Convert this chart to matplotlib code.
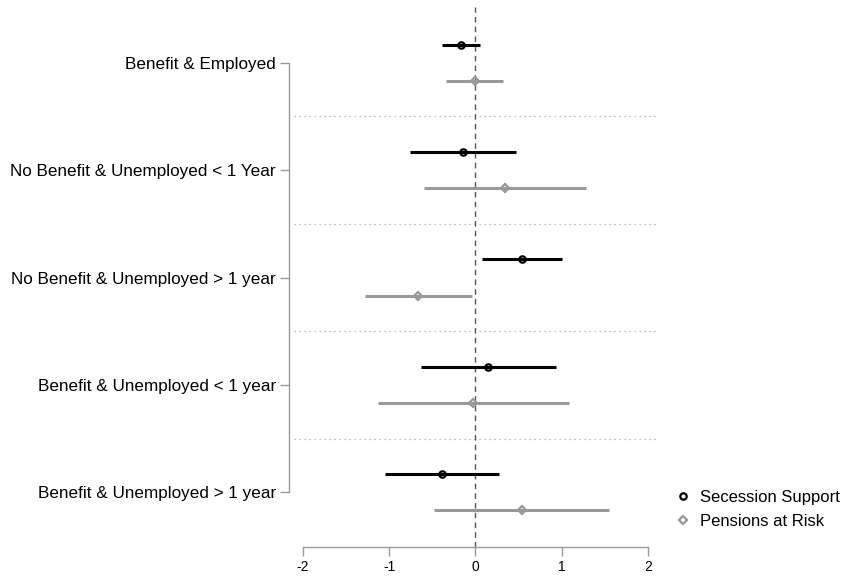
import matplotlib
matplotlib.use("Agg")
import matplotlib.pyplot as plt
from matplotlib.lines import Line2D

plt.rcParams['font.family'] = ['Liberation Sans', 'DejaVu Sans']

categories = ["Benefit & Employed",
              "No Benefit & Unemployed < 1 Year",
              "No Benefit & Unemployed > 1 year",
              "Benefit & Unemployed < 1 year",
              "Benefit & Unemployed > 1 year"]

secession_est = [-0.17, -0.15, 0.535, 0.15, -0.39]
secession_lo = [-0.39, -0.755, 0.07, -0.63, -1.045]
secession_hi = [0.05, 0.47, 1.0, 0.93, 0.27]

pensions_est = [-0.005, 0.345, -0.665, -0.025, 0.535]
pensions_lo = [-0.34, -0.595, -1.275, -1.13, -0.475]
pensions_hi = [0.32, 1.28, -0.045, 1.08, 1.55]

xticks = [-2, -1, 0, 1, 2]

fig = plt.figure(figsize=(8.45, 5.76), dpi=100)
ax = fig.add_axes([289/845, 1-547/576, 373/845, 540/576])

pos = list(range(1, len(categories) + 1))
off = 0.168
black = '#000000'
gray = '#999999'

for i, p in enumerate(pos):
    ax.plot([secession_lo[i], secession_hi[i]], [p - off, p - off], color=black, lw=2.2, solid_capstyle='butt', zorder=3)
    ax.plot([pensions_lo[i], pensions_hi[i]], [p + off, p + off], color=gray, lw=2.2, solid_capstyle='butt', zorder=3)
ax.plot(secession_est, [p - off for p in pos], 'o', ms=4.6, mfc='none', mec=black, mew=1.6, zorder=4)
ax.plot(pensions_est, [p + off for p in pos], 'D', ms=4, mfc='none', mec=gray, mew=1.6, zorder=4)

for s in [1.5, 2.5, 3.5, 4.5]:
    ax.hlines(s, -2.1, 2.13, colors='#aaaaaa', linestyles=(0, (1, 3)), lw=0.9, zorder=1)
ax.axvline(0, color='#555555', ls=(0, (4, 3)), lw=1.0, zorder=2)

ax.set_xlim(-2.16, 2.16)
ax.set_ylim(5.509, 0.481)
ax.set_yticks(pos)
ax.set_yticklabels(categories, fontsize=12.3)
ax.set_xticks(xticks)
ax.set_xticklabels([str(t) for t in xticks], fontsize=10)

for side in ['top', 'right']:
    ax.spines[side].set_visible(False)
ax.spines['left'].set_bounds(1, 5)
ax.spines['bottom'].set_bounds(-2, 2)
for side in ['left', 'bottom']:
    ax.spines[side].set_color('#999999')
    ax.spines[side].set_linewidth(1.0)
ax.tick_params(axis='both', colors='#999999', labelcolor='black', length=6.5, width=1.0, pad=3)

handles = [Line2D([], [], ls='none', marker='o', ms=4.6, mfc='none', mec=black, mew=1.6),
           Line2D([], [], ls='none', marker='D', ms=4, mfc='none', mec=gray, mew=1.6)]
fig.legend(handles, ["Secession Support", "Pensions at Risk"], loc='center left',
           bbox_to_anchor=(675/845, 1-509.5/576), frameon=False, fontsize=12,
           handlelength=1.0, handletextpad=0.5, labelspacing=0.55,
           borderpad=0, borderaxespad=0)

fig.savefig("out.png", dpi=100)
